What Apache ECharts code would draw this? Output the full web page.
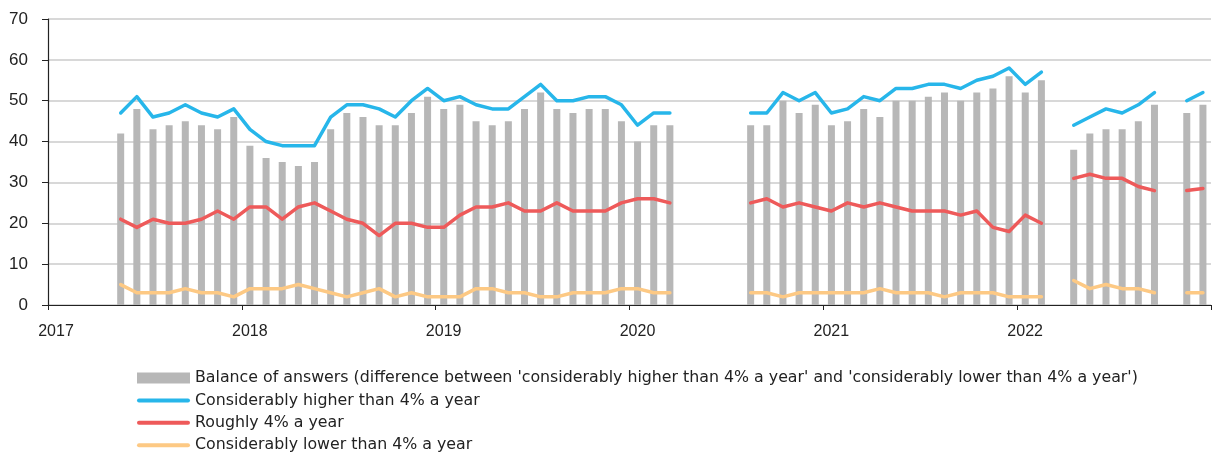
<!DOCTYPE html>
<html>
<head>
<meta charset="utf-8">
<script src="https://cdn.jsdelivr.net/npm/echarts@6/dist/echarts.min.js"></script>
<style>
  html, body { margin: 0; padding: 0; background: #fff; }
  #chart { width: 1214px; height: 455px; }
</style>
</head>
<body>
<div id="chart"></div>
<script>
// Monthly survey answers on expected house price growth (May 2017 – Dec 2022)
const months = [
  '2017-05','2017-06','2017-07','2017-08','2017-09','2017-10','2017-11','2017-12',
  '2018-01','2018-02','2018-03','2018-04','2018-05','2018-06','2018-07','2018-08','2018-09','2018-10','2018-11','2018-12',
  '2019-01','2019-02','2019-03','2019-04','2019-05','2019-06','2019-07','2019-08','2019-09','2019-10','2019-11','2019-12',
  '2020-01','2020-02','2020-03','2020-04','2020-05','2020-06','2020-07','2020-08','2020-09','2020-10','2020-11','2020-12',
  '2021-01','2021-02','2021-03','2021-04','2021-05','2021-06','2021-07','2021-08','2021-09','2021-10','2021-11','2021-12',
  '2022-01','2022-02','2022-03','2022-04','2022-05','2022-06','2022-07','2022-08','2022-09','2022-10','2022-11','2022-12'
];

const balance = [
  42,48,43,44,45,44,43,46,
  39,36,35,34,35,43,47,46,44,44,47,51,
  48,49,45,44,45,48,52,48,47,48,48,45,
  40,44,44,null,null,null,null,44,44,50,47,49,
  44,45,48,46,50,50,51,52,50,52,53,56,
  52,55,null,38,42,43,43,45,49,null,47,49
];

const higher = [
  47,51,46,47,49,47,46,48,
  43,40,39,39,39,46,49,49,48,46,50,53,
  50,51,49,48,48,51,54,50,50,51,51,49,
  44,47,47,null,null,null,null,47,47,52,50,52,
  47,48,51,50,53,53,54,54,53,55,56,58,
  54,57,null,44,46,48,47,49,52,null,50,52
];

const roughly = [
  21,19,21,20,20,21,23,21,
  24,24,21,24,25,23,21,20,17,20,20,19,
  19,22,24,24,25,23,23,25,23,23,23,25,
  26,26,25,null,null,null,null,25,26,24,25,24,
  23,25,24,25,24,23,23,23,22,23,19,18,
  22,20,null,31,32,31,31,29,28,null,28,28.5
];

const lower = [
  5,3,3,3,4,3,3,2,
  4,4,4,5,4,3,2,3,4,2,3,2,
  2,2,4,4,3,3,2,2,3,3,3,4,
  4,3,3,null,null,null,null,3,3,2,3,3,
  3,3,3,4,3,3,3,2,3,3,3,2,
  2,2,null,6,4,5,4,4,3,null,3,3
];

const seriesNames = [
  "Balance of answers (difference between 'considerably higher than 4% a year' and 'considerably lower than 4% a year')",
  'Considerably higher than 4% a year',
  'Roughly 4% a year',
  'Considerably lower than 4% a year'
];

const startYear = 2017;
const yTicks = [0, 10, 20, 30, 40, 50, 60, 70];

// x position in months since Jan 2017, placed mid-month
function monthPos(s) {
  const [y, m] = s.split('-').map(Number);
  return (y - startYear) * 12 + (m - 1) + 0.5;
}
const pair = arr => months.map((m, i) => [monthPos(m), arr[i]]);

const AXIS_FONT = "'Liberation Sans', Arial, sans-serif";
const LEGEND_FONT = "'DejaVu Sans', sans-serif";
const COLORS = { bar: '#b7b7b7', higher: '#27b6ea', roughly: '#ee5a5a', lower: '#fdc984' };
// thin stroke used as legend key for the line series
const LINE_ICON = 'path://M2,0 L51,0 A2,2 0 0 1 51,4 L2,4 A2,2 0 0 1 2,0 Z';

const chart = echarts.init(document.getElementById('chart'), null, { renderer: 'canvas' });

const lineSeries = (name, data, color) => ({
  name, type: 'line', data: pair(data), symbol: 'none', connectNulls: false,
  lineStyle: { color, width: 3.5, cap: 'round', join: 'round' },
  itemStyle: { color }, z: 3, animation: false
});

chart.setOption({
  backgroundColor: '#fff',
  animation: false,
  grid: { left: 48, top: 19, width: 1169, height: 286, containLabel: false },
  xAxis: {
    type: 'value', min: 0, max: 72, interval: 12,
    axisLine: { show: true, lineStyle: { color: '#222', width: 1.2 } },
    axisTick: { show: true, length: 5, lineStyle: { color: '#222' } },
    splitLine: { show: false },
    axisLabel: {
      margin: 19, color: '#222', fontSize: 16, fontFamily: AXIS_FONT,
      padding: [0, 0, 0, 16],
      formatter: v => (v < 72 ? String(startYear + v / 12) : '')
    }
  },
  yAxis: {
    type: 'value', min: yTicks[0], max: yTicks[yTicks.length - 1], interval: 10,
    axisLine: { show: true, lineStyle: { color: '#222', width: 1.2 } },
    axisTick: { show: true, length: 6, lineStyle: { color: '#222' } },
    splitLine: { show: true, lineStyle: { color: '#cbcbcb', width: 1.5 } },
    axisLabel: { margin: 20, color: '#222', fontSize: 17, fontFamily: AXIS_FONT }
  },
  legend: {
    orient: 'vertical', left: 137, top: 370, padding: 0, height: 120,
    itemWidth: 53, itemHeight: 11, itemGap: 6.4, symbolKeepAspect: true,
    textStyle: { color: '#222', fontSize: 15.8, lineHeight: 16, fontFamily: LEGEND_FONT },
    data: [
      { name: seriesNames[0], icon: 'rect' },
      { name: seriesNames[1], icon: LINE_ICON },
      { name: seriesNames[2], icon: LINE_ICON },
      { name: seriesNames[3], icon: LINE_ICON }
    ]
  },
  series: [
    {
      name: seriesNames[0], type: 'bar', data: pair(balance), barWidth: 7,
      itemStyle: { color: COLORS.bar }, z: 2, animation: false
    },
    lineSeries(seriesNames[1], higher, COLORS.higher),
    lineSeries(seriesNames[2], roughly, COLORS.roughly),
    lineSeries(seriesNames[3], lower, COLORS.lower)
  ]
});
</script>
</body>
</html>
